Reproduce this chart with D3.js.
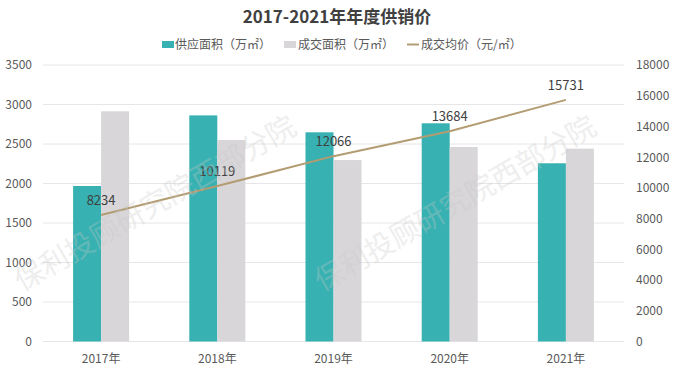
<!DOCTYPE html>
<html>
<head>
<meta charset="utf-8">
<script src="https://cdn.jsdelivr.net/npm/d3@7"></script>
<style>
  body { margin: 0; background: #fff; }
  text { font-family: "Noto Sans CJK SC", "Noto Sans", sans-serif; }
</style>
</head>
<body>
<div id="chart"></div>
<script>
const width = 673,
    height = 380;

// 数据
const years = ["2017年", "2018年", "2019年", "2020年", "2021年"];
const supply = [1968, 2862, 2648, 2762, 2256];
const deal = [2914, 2551, 2297, 2462, 2441];
const price = [8234, 10119, 12066, 13684, 15731];
const leftTicks = [0, 500, 1000, 1500, 2000, 2500, 3000, 3500];
const rightTicks = [0, 2000, 4000, 6000, 8000, 10000, 12000, 14000, 16000, 18000];

const teal = "#37b1b1",
    grey = "#d8d6d9",
    tan = "#b39c72";

const plot = { left: 43, right: 624, top: 65, bottom: 341.5 };

const svg = d3.select("#chart")
    .append("svg")
    .attr("width", width)
    .attr("height", height);

const x = d3.scaleBand()
    .domain(years)
    .range([plot.left, plot.right]);

const y = d3.scaleLinear()
    .domain([0, 3500])
    .range([plot.bottom, plot.top]);

const y2 = d3.scaleLinear()
    .domain([0, 18000])
    .range([plot.bottom, plot.top]);

const barW = 28;

// 网格线
svg.append("g")
    .selectAll("line")
    .data(leftTicks)
    .join("line")
    .attr("x1", plot.left)
    .attr("x2", plot.right)
    .attr("y1", d => y(d))
    .attr("y2", d => y(d))
    .attr("stroke", "#e6e6e6")
    .attr("stroke-width", 1);

// 左轴
svg.append("g")
    .attr("transform", `translate(${plot.left - 11},0)`)
    .call(d3.axisLeft(y).tickValues(leftTicks).tickFormat(d3.format("d")).tickSize(0).tickPadding(0))
    .call(g => g.select(".domain").remove())
    .selectAll("text")
    .style("font-size", "12px")
    .style("fill", "#595959");

// 右轴
svg.append("g")
    .attr("transform", `translate(${plot.right + 12},0)`)
    .call(d3.axisRight(y2).tickValues(rightTicks).tickFormat(d3.format("d")).tickSize(0).tickPadding(0))
    .call(g => g.select(".domain").remove())
    .selectAll("text")
    .style("font-size", "12px")
    .style("fill", "#595959");

// x轴
svg.append("g")
    .attr("transform", `translate(0,${plot.bottom + 12})`)
    .call(d3.axisBottom(x).tickSize(0).tickPadding(0))
    .call(g => g.select(".domain").remove())
    .selectAll("text")
    .attr("dy", "0.75em")
    .style("font-size", "12px")
    .style("fill", "#595959");

const cx = d => x(d) + x.bandwidth() / 2;

// 柱子
svg.append("g")
    .selectAll("rect")
    .data(years)
    .join("rect")
    .attr("x", d => cx(d) - barW)
    .attr("y", (d, i) => y(supply[i]))
    .attr("width", barW)
    .attr("height", (d, i) => plot.bottom - y(supply[i]))
    .attr("fill", teal);

svg.append("g")
    .selectAll("rect")
    .data(years)
    .join("rect")
    .attr("x", d => cx(d))
    .attr("y", (d, i) => y(deal[i]))
    .attr("width", barW)
    .attr("height", (d, i) => plot.bottom - y(deal[i]))
    .attr("fill", grey);

// 折线
const line = d3.line()
    .x((d, i) => cx(years[i]))
    .y(d => y2(d));

svg.append("path")
    .datum(price)
    .attr("d", line)
    .attr("fill", "none")
    .attr("stroke", tan)
    .attr("stroke-width", 2);

svg.append("g")
    .selectAll("text")
    .data(price)
    .join("text")
    .attr("x", (d, i) => cx(years[i]))
    .attr("y", d => y2(d) - 10)
    .attr("text-anchor", "middle")
    .style("font-size", "13px")
    .style("fill", "#404040")
    .text(d => d);

// 标题
svg.append("text")
    .attr("x", 337)
    .attr("y", 23)
    .attr("text-anchor", "middle")
    .style("font-size", "17px")
    .style("font-weight", "bold")
    .style("fill", "#404040")
    .text("2017-2021年年度供销价");

// 图例
const legend = svg.append("g").style("font-size", "12px").style("fill", "#595959");
legend.append("rect").attr("x", 162).attr("y", 41).attr("width", 12).attr("height", 7).attr("fill", teal);
legend.append("text").attr("x", 175).attr("y", 49).text("供应面积（万㎡）");
legend.append("rect").attr("x", 284).attr("y", 41).attr("width", 12).attr("height", 7).attr("fill", grey);
legend.append("text").attr("x", 298).attr("y", 49).text("成交面积（万㎡）");
legend.append("line").attr("x1", 407).attr("x2", 419).attr("y1", 44.5).attr("y2", 44.5)
    .attr("stroke", tan).attr("stroke-width", 2);
legend.append("text").attr("x", 421).attr("y", 49).text("成交均价（元/㎡）");

// 水印
[22, 322].forEach(x0 => {
    svg.append("text")
        .attr("transform", `translate(${x0},${292}) rotate(-30)`)
        .style("font-size", "29px")
        .style("fill", "#c8c8c8")
        .style("opacity", 0.3)
        .text("保利投顾研究院西部分院");
});
</script>
</body>
</html>
